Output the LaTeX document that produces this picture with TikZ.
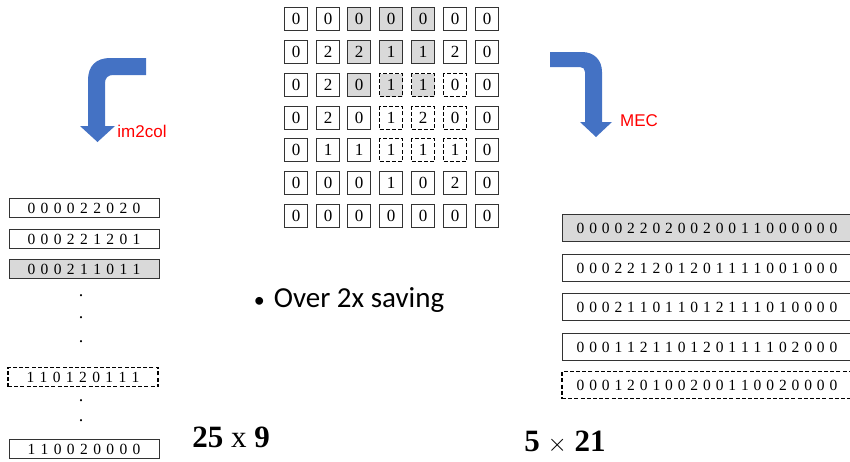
\documentclass[tikz,border=0pt]{standalone}
\usepackage{fontspec}
\setmainfont{Liberation Serif}
\newfontfamily\arialfont{Liberation Sans}
\newfontfamily\calfont{Carlito}

\definecolor{arrowblue}{HTML}{4472C4}
\definecolor{cellgray}{HTML}{D9D9D9}
\definecolor{labelred}{HTML}{FF0000}

\newcommand\colrowfont{\fontsize{15.5}{15.5}\selectfont\spaceskip=5.4pt\relax}
\newcommand\mecrowfont{\fontsize{15.5}{15.5}\selectfont\spaceskip=4.9pt\relax}

\tikzset{
  cell/.style={draw=black!80, line width=1.1pt, minimum size=23pt, inner sep=0pt, font=\fontsize{17}{17}\selectfont},
  hit/.style={fill=cellgray},
  win/.style={draw=black, line width=1.6pt, dash pattern=on 4pt off 2.2pt},
  colrow/.style={draw=black!80, line width=0.8pt, minimum width=150pt, minimum height=19pt, inner sep=0pt, font=\colrowfont},
  mecrow/.style={draw=black!80, line width=0.8pt, minimum width=290pt, minimum height=27pt, inner sep=0pt, font=\mecrowfont},
  dotnode/.style={inner sep=0pt, font=\fontsize{18}{18}\selectfont},
}

\begin{document}
\begin{tikzpicture}[x=1pt, y=-1pt]

\useasboundingbox (0,0) rectangle (850,461);

% input feature map 7x7
\node[cell] (c11) at (296,19) {0};
\node[cell] (c12) at (328,19) {0};
\node[cell, hit] (c13) at (359,19) {0};
\node[cell, hit] (c14) at (391,19) {0};
\node[cell, hit] (c15) at (423,19) {0};
\node[cell] (c16) at (455,19) {0};
\node[cell] (c17) at (487,19) {0};

\node[cell] (c21) at (296,52) {0};
\node[cell] (c22) at (328,52) {2};
\node[cell, hit] (c23) at (359,52) {2};
\node[cell, hit] (c24) at (391,52) {1};
\node[cell, hit] (c25) at (423,52) {1};
\node[cell] (c26) at (455,52) {2};
\node[cell] (c27) at (487,52) {0};

\node[cell] (c31) at (296,85) {0};
\node[cell] (c32) at (328,85) {2};
\node[cell, hit] (c33) at (359,85) {0};
\node[cell, hit, win] (c34) at (391,85) {1};
\node[cell, hit, win] (c35) at (423,85) {1};
\node[cell, win] (c36) at (455,85) {0};
\node[cell] (c37) at (487,85) {0};

\node[cell] (c41) at (296,118) {0};
\node[cell] (c42) at (328,118) {2};
\node[cell] (c43) at (359,118) {0};
\node[cell, win] (c44) at (391,118) {1};
\node[cell, win] (c45) at (423,118) {2};
\node[cell, win] (c46) at (455,118) {0};
\node[cell] (c47) at (487,118) {0};

\node[cell] (c51) at (296,150) {0};
\node[cell] (c52) at (328,150) {1};
\node[cell] (c53) at (359,150) {1};
\node[cell, win] (c54) at (391,150) {1};
\node[cell, win] (c55) at (423,150) {1};
\node[cell, win] (c56) at (455,150) {1};
\node[cell] (c57) at (487,150) {0};

\node[cell] (c61) at (296,183) {0};
\node[cell] (c62) at (328,183) {0};
\node[cell] (c63) at (359,183) {0};
\node[cell] (c64) at (391,183) {1};
\node[cell] (c65) at (423,183) {0};
\node[cell] (c66) at (455,183) {2};
\node[cell] (c67) at (487,183) {0};

\node[cell] (c71) at (296,216) {0};
\node[cell] (c72) at (328,216) {0};
\node[cell] (c73) at (359,216) {0};
\node[cell] (c74) at (391,216) {0};
\node[cell] (c75) at (423,216) {0};
\node[cell] (c76) at (455,216) {0};
\node[cell] (c77) at (487,216) {0};

% im2col arrow
\fill[arrowblue] (146,58) -- (110,58) .. controls (96,58) and (88,66) .. (88,80) -- (88,126) -- (80,126) -- (97.5,142) -- (115,126) -- (105,126) -- (105,83) .. controls (105,78) and (108,75) .. (113,75) -- (146,75) -- cycle;
\node[font=\arialfont\fontsize{17}{17}\selectfont, text=labelred] (lbl1) at (142,131) {im2col};

% MEC arrow
\fill[arrowblue] (550,52) -- (582,52) .. controls (594,52) and (602,60) .. (602,72) -- (602,122) -- (612,122) -- (596,137) -- (580,122) -- (585,122) -- (585,72) .. controls (585,69) and (583,67) .. (580,67) -- (550,67) -- cycle;
\node[font=\arialfont\fontsize{17}{17}\selectfont, text=labelred] (lbl2) at (639,121) {MEC};

% im2col rows
\node[colrow] (r1) at (84,208) {0 0 0 0 2 2 0 2 0};
\node[colrow] (r2) at (84,239) {0 0 0 2 2 1 2 0 1};
\node[colrow, hit] (r3) at (84,269) {0 0 0 2 1 1 0 1 1};
\node[dotnode] (d1) at (81,296) {.};
\node[dotnode] (d2) at (81,318) {.};
\node[dotnode] (d3) at (81,342) {.};
\node[colrow, win] (r4) at (83,377) {1 1 0 1 2 0 1 1 1};
\node[dotnode] (d4) at (81,401) {.};
\node[dotnode] (d5) at (81,421) {.};
\node[colrow] (r5) at (84,449) {1 1 0 0 2 0 0 0 0};

% MEC rows
\node[mecrow, hit] (m1) at (707,228) {0 0 0 0 2 2 0 2 0 0 2 0 0 1 1 0 0 0 0 0 0};
\node[mecrow] (m2) at (707,268) {0 0 0 2 2 1 2 0 1 2 0 1 1 1 1 0 0 1 0 0 0};
\node[mecrow] (m3) at (707,307) {0 0 0 2 1 1 0 1 1 0 1 2 1 1 1 0 1 0 0 0 0};
\node[mecrow] (m4) at (707,347) {0 0 0 1 1 2 1 1 0 1 2 0 1 1 1 1 0 2 0 0 0};
\node[mecrow, win] (m5) at (707,385) {0 0 0 1 2 0 1 0 0 2 0 0 1 1 0 0 2 0 0 0 0};

% labels
\node[font=\calfont\fontsize{29}{29}\selectfont] (save) at (349,300) {{\fontsize{22}{22}\selectfont\textbullet}\hspace{9pt}Over 2x saving};
\node[font=\fontsize{31}{31}\selectfont] (sz1) at (231,437) {\textbf{25} x \textbf{9}};
\node[font=\fontsize{31}{31}\selectfont] (sz2) at (565,442) {\textbf{5} $\times$ \textbf{21}};

\end{tikzpicture}
\end{document}
